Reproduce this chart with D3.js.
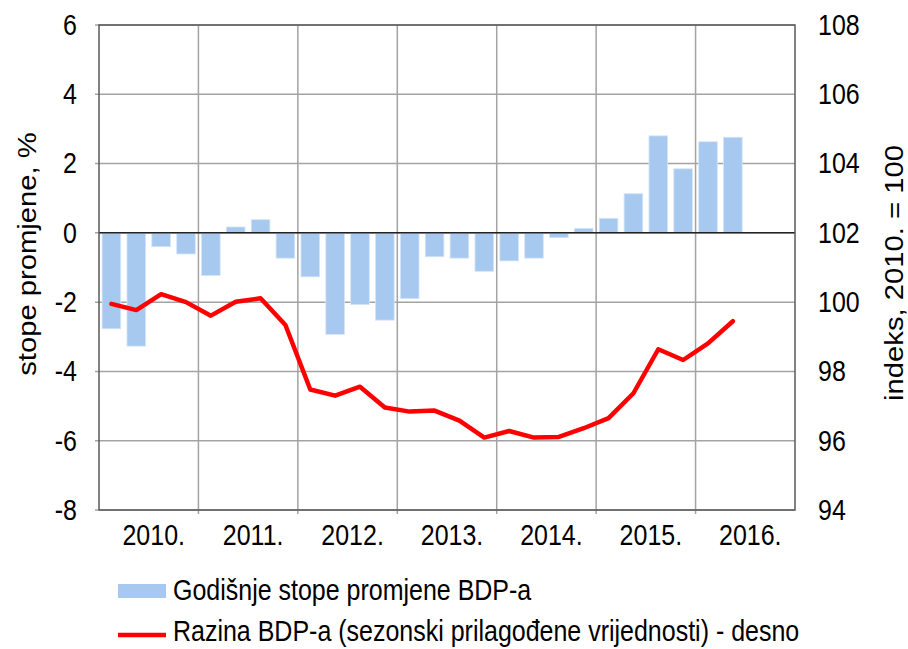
<!DOCTYPE html>
<html>
<head>
<meta charset="utf-8">
<script src="https://cdn.jsdelivr.net/npm/d3@7"></script>
<style>
  body { margin: 0; background: #fff; }
  svg { font-family: Arial, "Liberation Sans", sans-serif; }
</style>
</head>
<body>
<svg id="chart" width="908" height="649"></svg>
<script>
// Years on the axis, quarters run 2010 Q1 .. 2016 Q2
const years = ['2010.', '2011.', '2012.', '2013.', '2014.', '2015.', '2016.']
const leftTicks = [-8, -6, -4, -2, 0, 2, 4, 6]
const rightTicks = [94, 96, 98, 100, 102, 104, 106, 108]

// Godišnje stope promjene BDP-a (%), quarterly
const growth = [
  -2.77, -3.27, -0.40, -0.61,
  -1.23, 0.17, 0.38, -0.73,
  -1.27, -2.93, -2.07, -2.52,
  -1.90, -0.69, -0.73, -1.11,
  -0.81, -0.73, -0.14, 0.13,
  0.42, 1.13, 2.80, 1.85,
  2.63, 2.76
]

// Razina BDP-a, indeks 2010. = 100 (desno)
const level = [
  99.95, 99.77, 100.23, 100.00,
  99.61, 100.01, 100.11, 99.34,
  97.48, 97.30, 97.56, 96.96,
  96.84, 96.87, 96.58, 96.09,
  96.28, 96.09, 96.11, 96.36,
  96.65, 97.37, 98.64, 98.33,
  98.81, 99.45
]

// the reference text is a bit taller than plain Arial
const stretch = 1.17

const margin = { top: 25, left: 99, right: 113, bottom: 139 }
const width = 908 - margin.left - margin.right
const height = 649 - margin.top - margin.bottom

const svg = d3.select('#chart')
const g = svg.append('g')
  .attr('transform', 'translate(' + margin.left + ',' + margin.top + ')')

// Quarter slots: 4 per year
const quarters = d3.range(years.length * 4)
const x = d3.scaleBand()
  .domain(quarters)
  .range([0, width])
  .paddingInner(0.25)
  .paddingOuter(0.125)

const xYear = d3.scaleBand()
  .domain(years)
  .range([0, width])

const yL = d3.scaleLinear().domain([-8, 6]).range([height, 0])
const yR = d3.scaleLinear().domain([94, 108]).range([height, 0])

// Gridlines
g.append('g')
  .selectAll('line')
  .data(leftTicks)
  .enter()
  .append('line')
    .attr('x1', -4)
    .attr('x2', width)
    .attr('y1', d => yL(d))
    .attr('y2', d => yL(d))
    .attr('stroke', '#a3a3a3')
    .attr('stroke-width', 1.5)

g.append('g')
  .selectAll('line')
  .data(years.slice(1))
  .enter()
  .append('line')
    .attr('x1', d => xYear(d))
    .attr('x2', d => xYear(d))
    .attr('y1', 0)
    .attr('y2', height + 4)
    .attr('stroke', '#a3a3a3')
    .attr('stroke-width', 1.5)

// Bars
g.append('g')
  .selectAll('rect')
  .data(growth)
  .enter()
  .append('rect')
    .attr('x', (d, i) => x(i))
    .attr('y', d => yL(Math.max(0, d)))
    .attr('width', x.bandwidth())
    .attr('height', d => Math.abs(yL(d) - yL(0)))
    .attr('fill', '#a8c9ef')
    .attr('stroke', '#d6e5f8')
    .attr('stroke-width', 0.8)

// Zero line
g.append('line')
  .attr('x1', 0)
  .attr('x2', width)
  .attr('y1', yL(0))
  .attr('y2', yL(0))
  .attr('stroke', '#222')
  .attr('stroke-width', 1.5)

// Plot border
g.append('rect')
  .attr('x', 0)
  .attr('y', 0)
  .attr('width', width)
  .attr('height', height)
  .attr('fill', 'none')
  .attr('stroke', '#5a5a5a')
  .attr('stroke-width', 1.5)

// Line
const line = d3.line()
  .x((d, i) => x(i) + x.bandwidth() / 2)
  .y(d => yR(d))

g.append('path')
  .datum(level)
  .attr('d', line)
  .attr('fill', 'none')
  .attr('stroke', '#ff0000')
  .attr('stroke-width', 4.5)
  .attr('stroke-linejoin', 'round')
  .attr('stroke-linecap', 'round')

// Axes (plain hyphen for negatives, like the reference)
const leftAxis = g.append('g')
  .call(d3.axisLeft(yL).tickValues(leftTicks).tickFormat(d => String(d)).tickSize(0).tickPadding(22))
leftAxis.select('.domain').remove()

const rightAxis = g.append('g')
  .attr('transform', 'translate(' + width + ',0)')
  .call(d3.axisRight(yR).tickValues(rightTicks).tickFormat(d => String(d)).tickSize(0).tickPadding(23))
rightAxis.select('.domain').remove()

const bottomAxis = g.append('g')
  .attr('transform', 'translate(0,' + height + ')')
  .call(d3.axisBottom(xYear).tickSize(0))
bottomAxis.select('.domain').remove()
bottomAxis.selectAll('text')
  .attr('y', 0)
  .attr('dy', 0)
  .attr('dx', 5)
  .attr('transform', 'translate(0,35) scale(1,' + stretch + ')')

leftAxis.selectAll('text').attr('transform', 'scale(1,' + stretch + ')')
rightAxis.selectAll('text').attr('transform', 'scale(1,' + stretch + ')')

svg.selectAll('.tick text')
  .attr('font-family', 'Arial, "Liberation Sans", sans-serif')
  .attr('font-size', 25)
  .attr('fill', '#000')

// Axis titles
svg.append('text')
  .attr('transform', 'translate(36,254) rotate(-90) scale(' + stretch + ',1)')
  .attr('text-anchor', 'middle')
  .attr('font-size', 25)
  .text('stope promjene, %')

svg.append('text')
  .attr('transform', 'translate(903,273) rotate(-90) scale(' + stretch + ',1)')
  .attr('text-anchor', 'middle')
  .attr('font-size', 25)
  .text('indeks, 2010. = 100')

// Legend
const legend = svg.append('g')
legend.append('rect')
  .attr('x', 118)
  .attr('y', 584)
  .attr('width', 48)
  .attr('height', 14)
  .attr('fill', '#a8c9ef')
legend.append('text')
  .attr('transform', 'translate(173,600) scale(1,' + stretch + ')')
  .attr('font-size', 25)
  .text('Godišnje stope promjene BDP-a')

legend.append('line')
  .attr('x1', 118)
  .attr('x2', 166)
  .attr('y1', 635)
  .attr('y2', 635)
  .attr('stroke', '#ff0000')
  .attr('stroke-width', 4.5)
legend.append('text')
  .attr('transform', 'translate(173,641) scale(1,' + stretch + ')')
  .attr('font-size', 25)
  .text('Razina BDP-a (sezonski prilagođene vrijednosti) - desno')
</script>
</body>
</html>
